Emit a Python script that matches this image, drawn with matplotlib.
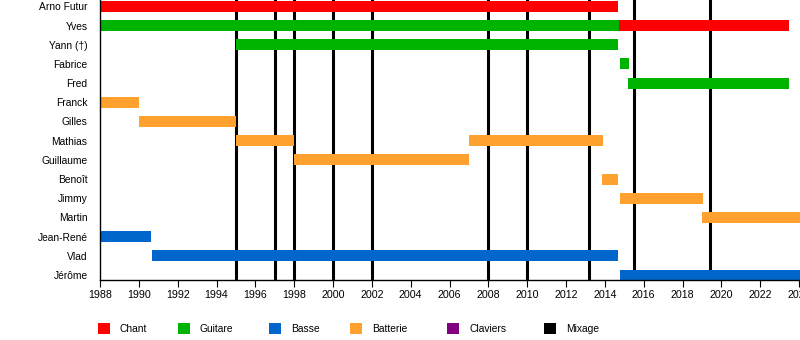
import matplotlib
matplotlib.use("Agg")
import matplotlib.pyplot as plt
from matplotlib.patches import Rectangle

plt.rcParams['font.family'] = ['Liberation Sans', 'DejaVu Sans']

# ── Data ───────────────────────────────────────────────────────
members = ["Arno Futur", "Yves", "Yann (†)", "Fabrice", "Fred", "Franck", "Gilles",
           "Mathias", "Guillaume", "Benoît", "Jimmy", "Martin", "Jean-René", "Vlad", "Jérôme"]

bar_member = ["Arno Futur", "Yves", "Yves", "Yann (†)", "Fabrice", "Fred", "Franck", "Gilles",
              "Mathias", "Mathias", "Guillaume", "Benoît", "Jimmy", "Martin",
              "Jean-René", "Vlad", "Jérôme"]
bar_start = [1988, 1988, 2014.75, 1995, 2014.8, 2015.2, 1988, 1990,
             1995, 2007, 1998, 2013.85, 2014.8, 2019.0,
             1988, 1990.7, 2014.8]
bar_end = [2014.7, 2014.75, 2023.5, 2014.7, 2015.25, 2023.5, 1990, 1995,
           1998, 2013.9, 2007, 2014.7, 2019.05, 2025,
           1990.65, 2014.7, 2025]
bar_role = ["Chant", "Guitare", "Chant", "Guitare", "Guitare", "Guitare", "Batterie", "Batterie",
            "Batterie", "Batterie", "Batterie", "Batterie", "Batterie", "Batterie",
            "Basse", "Basse", "Basse"]

mixage_years = [1995, 1997, 1998, 2000, 2002, 2008, 2010, 2013.2, 2015.5, 2019.4]

roles = ["Chant", "Guitare", "Basse", "Batterie", "Claviers", "Mixage"]
role_colors = {"Chant": "#FF0000", "Guitare": "#00B300", "Basse": "#0066CC",
               "Batterie": "#FFA12F", "Claviers": "#800080", "Mixage": "#000000"}

# ── Figure ─────────────────────────────────────────────────────
fig = plt.figure(figsize=(8, 3.4), dpi=100)
ax = fig.add_axes([100 / 800, 1 - 280 / 340, 700 / 800, 280 / 340])

for yr in mixage_years:
    ax.axvline(yr, color="black", linewidth=2.2, zorder=1)

row = {m: i for i, m in enumerate(members)}
for m, s, e, r in zip(bar_member, bar_start, bar_end, bar_role):
    ax.barh(row[m], e - s, left=s, height=0.57, color=role_colors[r],
            linewidth=0, zorder=2)

ax.set_xlim(1988, 2024.05)
ax.set_ylim(14.26, -0.33)
ax.set_xticks(range(1988, 2025, 2))
ax.set_yticks(range(len(members)))
ax.set_yticklabels(members)

ax.tick_params(axis="x", length=5, width=0.8, labelsize=7.7, pad=2)
ax.tick_params(axis="y", length=0, labelsize=7.4, pad=9)
for side in ["top", "right"]:
    ax.spines[side].set_visible(False)
ax.spines["left"].set_linewidth(1)
ax.spines["bottom"].set_linewidth(1)

# ── Legend ─────────────────────────────────────────────────────
legend_x = [98, 178, 269, 350, 447, 544]
for x, r in zip(legend_x, roles):
    fig.patches.append(Rectangle((x / 800, 1 - 334 / 340), 12 / 800, 11 / 340,
                                 transform=fig.transFigure, facecolor=role_colors[r],
                                 edgecolor="none"))
    fig.text((x + 22) / 800, 1 - 329 / 340, r, fontsize=7.4, va="center", ha="left")

fig.savefig("out.png", dpi=100)
